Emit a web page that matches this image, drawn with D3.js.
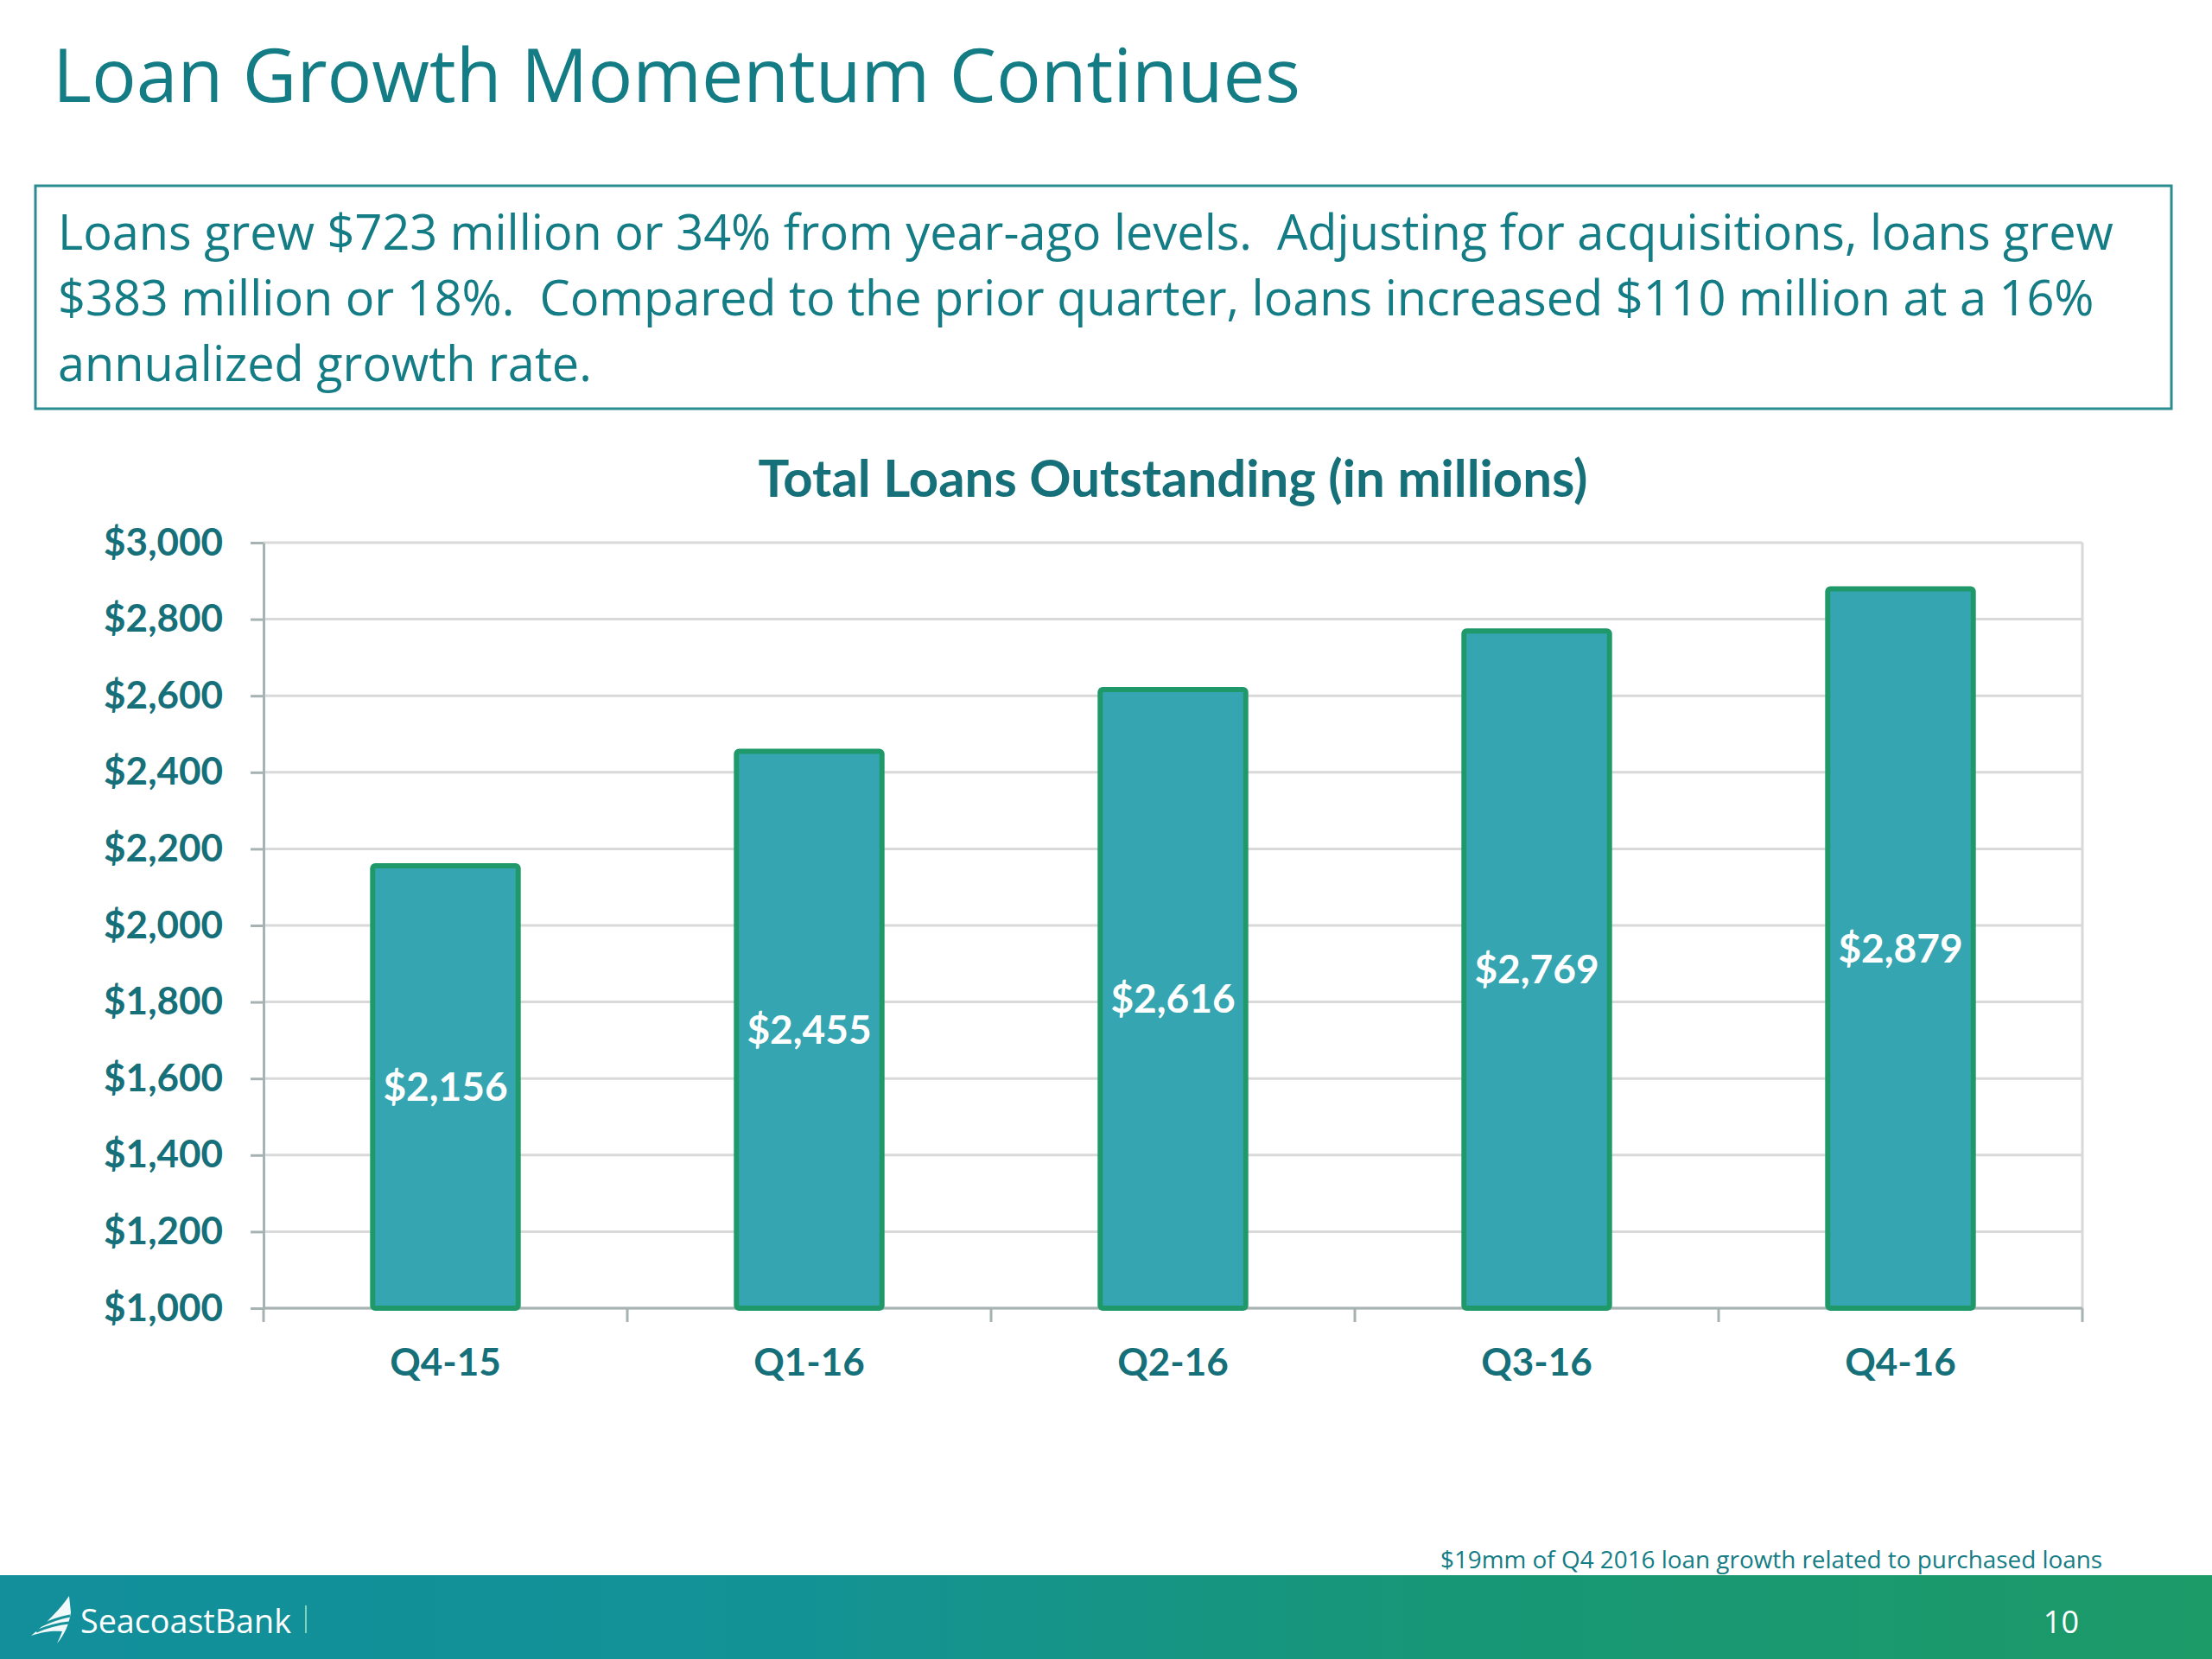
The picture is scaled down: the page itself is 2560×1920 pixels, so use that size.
<!DOCTYPE html>
<html>
<head>
<meta charset="utf-8">
<script src="https://cdn.jsdelivr.net/npm/d3@7"></script>
<style>
  body { margin: 0; background: #fff; }
  svg { display: block; }
</style>
</head>
<body>
<svg id="chart" width="2560" height="1920"></svg>
<script>
const width = 2560;
const height = 1920;

// data
const quarters = ["Q4-15", "Q1-16", "Q2-16", "Q3-16", "Q4-16"];
const loans = [2156, 2455, 2616, 2769, 2879];
const yTicks = [1000, 1200, 1400, 1600, 1800, 2000, 2200, 2400, 2600, 2800, 3000];

const slideTitle = "Loan Growth Momentum Continues";
const bodyLines = [
  "Loans grew $723 million or 34% from year-ago levels.  Adjusting for acquisitions, loans grew",
  "$383 million or 18%.  Compared to the prior quarter, loans increased $110 million at a 16%",
  "annualized growth rate."
];
const chartTitle = "Total Loans Outstanding (in millions)";
const footnote = "$19mm of Q4 2016 loan growth related to purchased loans";
const pageNumber = "10";

const teal = "#137c85";
const labelTeal = "#16707a";

const svg = d3.select("#chart");
svg.append("rect").attr("width", width).attr("height", height).attr("fill", "#fff");

// scale a text's font-size so it spans the given width
function fit(sel, w) {
  const fs = parseFloat(sel.attr("font-size"));
  const len = sel.node().getComputedTextLength();
  sel.attr("font-size", (fs * w / len).toFixed(2));
  return parseFloat(sel.attr("font-size"));
}

// title
const t = svg.append("text")
  .attr("x", 61).attr("y", 118)
  .attr("font-family", "Open Sans").attr("font-size", 86)
  .attr("fill", teal).text(slideTitle);
fit(t, 1444);

// text box
svg.append("rect")
  .attr("x", 41).attr("y", 215).attr("width", 2472).attr("height", 258)
  .attr("fill", "none").attr("stroke", "#2a8b90").attr("stroke-width", 3);

const body = svg.append("g");
const lines = body.selectAll("text").data(bodyLines).enter().append("text")
  .attr("x", 67).attr("y", (d, i) => 289 + i * 76)
  .attr("font-family", "Open Sans").attr("font-size", 56)
  .attr("fill", teal).style("white-space", "pre")
  .text(d => d);
const bodySize = fit(d3.select(lines.nodes()[0]), 2379);
lines.attr("font-size", bodySize);

// chart
const x = d3.scaleBand().domain(quarters).range([305, 2410])
  .paddingInner(0.6).paddingOuter(0.3);
const y = d3.scaleLinear().domain([1000, 3000]).range([1514, 628]);

const chart = svg.append("g");

// gridlines
chart.append("g").selectAll("line").data(yTicks).enter().append("line")
  .attr("x1", 305).attr("x2", 2410)
  .attr("y1", d => y(d)).attr("y2", d => y(d))
  .attr("stroke", "#d9d9d9").attr("stroke-width", 3);
chart.append("line")
  .attr("x1", 2410).attr("x2", 2410).attr("y1", y(3000)).attr("y2", y(1000))
  .attr("stroke", "#d9d9d9").attr("stroke-width", 3);

// y axis
const yAxis = chart.append("g")
  .attr("transform", "translate(305,0)")
  .call(d3.axisLeft(y).tickValues(yTicks)
    .tickFormat(d => "$" + d3.format(",")(d))
    .tickSize(15).tickSizeOuter(0).tickPadding(32));
yAxis.select(".domain").attr("stroke", "#a7b3b3").attr("stroke-width", 3);
yAxis.selectAll(".tick line").attr("stroke", "#a7b3b3").attr("stroke-width", 3);
yAxis.selectAll(".tick text")
  .attr("font-family", "Lato").attr("font-weight", "bold").attr("font-size", 44)
  .attr("fill", labelTeal);

// x axis
const edges = d3.range(quarters.length + 1).map(i => x.range()[0] + i * x.step());
chart.append("line")
  .attr("x1", 305).attr("x2", 2410).attr("y1", y(1000)).attr("y2", y(1000))
  .attr("stroke", "#a7b3b3").attr("stroke-width", 3);
chart.append("g").selectAll("line").data(edges).enter().append("line")
  .attr("x1", d => d).attr("x2", d => d)
  .attr("y1", y(1000)).attr("y2", y(1000) + 16)
  .attr("stroke", "#a7b3b3").attr("stroke-width", 3);
chart.append("g").selectAll("text").data(quarters).enter().append("text")
  .attr("x", d => x(d) + x.bandwidth() / 2).attr("y", 1592)
  .attr("text-anchor", "middle")
  .attr("font-family", "Lato").attr("font-weight", "bold").attr("font-size", 44)
  .attr("fill", labelTeal).text(d => d);

// bars
const rows = quarters.map((q, i) => ({ q, v: loans[i] }));
chart.append("g").selectAll("rect").data(rows).enter().append("rect")
  .attr("x", d => x(d.q)).attr("y", d => y(d.v))
  .attr("width", x.bandwidth()).attr("height", d => y(1000) - y(d.v))
  .attr("rx", 3)
  .attr("fill", "#35a6b1").attr("stroke", "#1f996a").attr("stroke-width", 6);

chart.append("g").selectAll("text").data(rows).enter().append("text")
  .attr("x", d => x(d.q) + x.bandwidth() / 2)
  .attr("y", d => (y(d.v) + y(1000)) / 2)
  .attr("dy", "0.35em").attr("text-anchor", "middle")
  .attr("font-family", "Lato").attr("font-weight", "bold").attr("font-size", 46)
  .attr("fill", "#fff").text(d => "$" + d3.format(",")(d.v));

// chart title
const ct = svg.append("text")
  .attr("x", (305 + 2410) / 2).attr("y", 575).attr("text-anchor", "middle")
  .attr("font-family", "Lato").attr("font-weight", "bold").attr("font-size", 54)
  .attr("fill", labelTeal).text(chartTitle);
fit(ct, 960);

// footnote
const fn = svg.append("text")
  .attr("x", 1667).attr("y", 1815)
  .attr("font-family", "Open Sans").attr("font-size", 30)
  .attr("fill", teal).text(footnote);
fit(fn, 766);

// footer band
const grad = svg.append("defs").append("linearGradient").attr("id", "foot")
  .attr("x1", "0%").attr("x2", "100%");
grad.append("stop").attr("offset", "0%").attr("stop-color", "#128f9b");
grad.append("stop").attr("offset", "35%").attr("stop-color", "#139296");
grad.append("stop").attr("offset", "65%").attr("stop-color", "#189777");
grad.append("stop").attr("offset", "100%").attr("stop-color", "#1c9a68");
svg.append("rect").attr("x", 0).attr("y", 1823).attr("width", width).attr("height", height - 1823)
  .attr("fill", "url(#foot)");

// logo
svg.append("path")
  .attr("d", "M80,1847 C70,1862 52,1880 36,1893 C50,1888 62,1887 72,1888 C70,1893 68,1898 66,1902 C74,1893 80,1880 82,1866 Z")
  .attr("fill", "#fff").attr("opacity", 0.95);
svg.append("path")
  .attr("d", "M46,1882 C58,1876 70,1872 81,1870 M42,1888 C56,1882 70,1879 80,1878")
  .attr("fill", "none").attr("stroke", "#149199").attr("stroke-width", 3);
const logo = svg.append("text")
  .attr("x", 93).attr("y", 1890)
  .attr("font-family", "Open Sans").attr("font-size", 38)
  .attr("fill", "#fff").text("SeacoastBank");
fit(logo, 244);
svg.append("line")
  .attr("x1", 354).attr("x2", 354).attr("y1", 1858).attr("y2", 1890)
  .attr("stroke", "#7fd3b8").attr("stroke-width", 2);

svg.append("text")
  .attr("x", 2406).attr("y", 1890).attr("text-anchor", "end")
  .attr("font-family", "Open Sans").attr("font-size", 36)
  .attr("fill", "#fff").text(pageNumber);
</script>
</body>
</html>
